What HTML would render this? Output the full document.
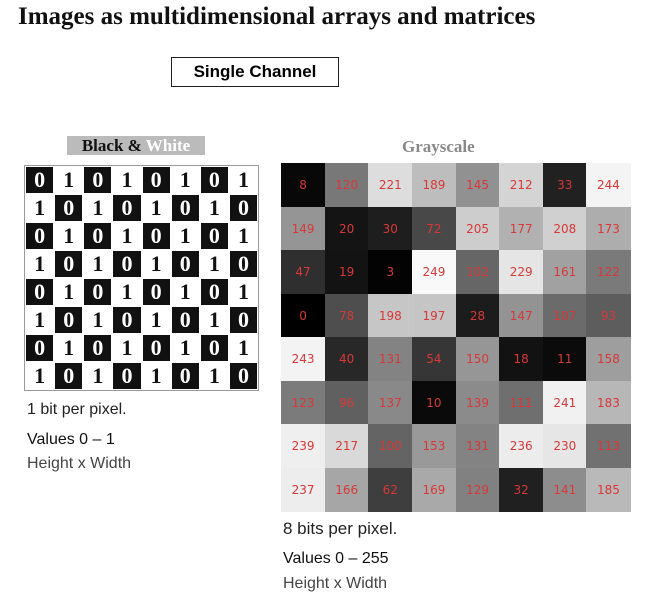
<!DOCTYPE html>
<html><head><meta charset="utf-8"><style>
body{margin:0;width:655px;height:603px;background:#fff;position:relative;overflow:hidden;font-family:"Liberation Sans",sans-serif}
.a{position:absolute;white-space:nowrap}
.t{font-family:"Liberation Sans",sans-serif;color:#222}
</style></head><body>
<div class="a" style="left:18px;top:3px;font:bold 25px 'Liberation Serif',serif;color:#111">Images as multidimensional arrays and matrices</div>
<div class="a" style="left:171px;top:57px;width:166px;height:28px;border:1.5px solid #222;font:bold 17px 'Liberation Sans',sans-serif;text-align:center;line-height:28px">Single Channel</div>
<div class="a" style="left:67px;top:136px;width:138px;height:19px;background:#bbb;font:bold 17px 'Liberation Serif',serif;line-height:19px;text-align:center"><span style="color:#111">Black &amp; </span><span style="color:#fff">White</span></div>
<div class="a" style="left:402px;top:137px;font:bold 17px 'Liberation Serif',serif;color:#888">Grayscale</div>
<div id="bw" class="a" style="left:24px;top:165px;width:233px;height:224px;background:#fff;border:1px solid #999"></div>
<div id="gs" class="a" style="left:281px;top:163px;width:349px;height:348px"></div>
<div class="a t" style="left:27px;top:401px;font-size:16px">1 bit per pixel.</div>
<div class="a t" style="left:27px;top:431px;font-size:16px;color:#111">Values 0 – 1</div>
<div class="a t" style="left:27px;top:455px;font-size:16px;color:#444">Height x Width</div>
<div class="a t" style="left:283px;top:519px;font-size:17px">8 bits per pixel.</div>
<div class="a t" style="left:283px;top:550px;font-size:16px;color:#111">Values 0 – 255</div>
<div class="a t" style="left:283px;top:575px;font-size:16px;color:#444">Height x Width</div>
<script>
const grayRows=[
[8,120,221,189,145,212,33,244],
[149,20,30,72,205,177,208,173],
[47,19,3,249,102,229,161,122],
[0,78,198,197,28,147,107,93],
[243,40,131,54,150,18,11,158],
[123,96,137,10,139,111,241,183],
[239,217,100,153,131,236,230,113],
[237,166,62,169,129,32,141,185]];
const bitRows=[];
for(let r=0;r<8;r++){const row=[];for(let c=0;c<8;c++)row.push((r+c)%2);bitRows.push(row);}
const gs=document.getElementById('gs');
const cw=349/8,ch=348/8;
grayRows.forEach((row,r)=>row.forEach((v,c)=>{
const d=document.createElement('div');


d.style.cssText=`position:absolute;left:${c*cw}px;top:${r*ch}px;width:${cw+0.5}px;height:${ch+0.5}px;background:rgb(${v},${v},${v});color:#d83838;font:12px 'DejaVu Sans',sans-serif;display:flex;align-items:center;justify-content:center`;
d.textContent=v;gs.appendChild(d);}));
const bw=document.getElementById('bw');
const bw_w=233/8,bw_h=224/8;
bitRows.forEach((row,r)=>row.forEach((v,c)=>{
const d=document.createElement('div');


d.style.cssText=`position:absolute;left:${c*bw_w+1}px;top:${r*bw_h+1}px;width:${bw_w-2}px;height:${bw_h-2}px;background:${v?'#fff':'#111'};color:${v?'#111':'#fff'};font:bold 22px 'Liberation Serif',serif;display:flex;align-items:center;justify-content:center`;
d.textContent=v;bw.appendChild(d);}));
</script>
</body></html>
